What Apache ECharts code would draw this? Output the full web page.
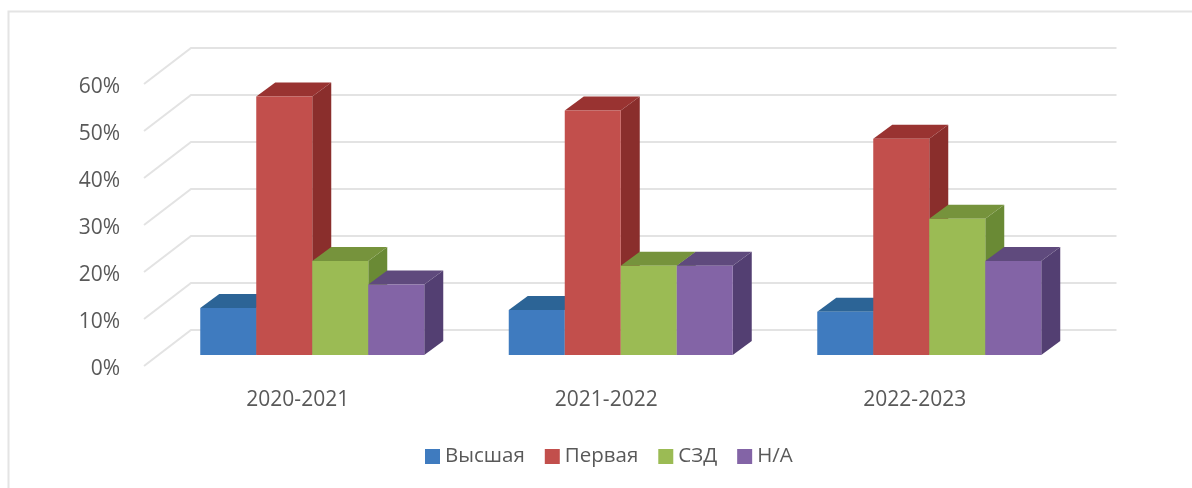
<!DOCTYPE html>
<html>
<head>
<meta charset="utf-8">
<style>html,body{margin:0;padding:0;background:#fff}#main{width:1192px;height:488px}</style>
<script src="https://cdn.jsdelivr.net/npm/echarts@6/dist/echarts.min.js"></script>
</head>
<body>
<div id="main"></div>
<script>
var categories = ['2020-2021', '2021-2022', '2022-2023'];
var vysshaya = [10, 9.6, 9.2];
var pervaya = [55, 52, 46];
var szd = [20, 19, 29];
var na = [15, 19, 20];
var yTicks = [0, 10, 20, 30, 40, 50, 60];

var myChart = echarts.init(document.getElementById('main'));

var barShare = 56 / 308.5; // bar width as part of a category
var depthX = 19, depthY = 14; // bar depth on screen

// one 3d bar: front, side, top
function barItem(index, front, side, top) {
    return function (params, api) {
        var c = api.value(0);
        var base = api.coord([c, 0]);
        var head = api.coord([c, api.value(1)]);
        var w = api.size([1, 0])[0] * barShare;
        var x0 = base[0] + (index - 2) * w;
        var x1 = x0 + w;
        var y0 = base[1], y1 = head[1];
        return {
            type: 'group',
            children: [{
                type: 'polygon',
                shape: { points: [[x1, y0], [x1 + depthX, y0 - depthY], [x1 + depthX, y1 - depthY], [x1, y1]] },
                style: { fill: side }
            }, {
                type: 'polygon',
                shape: { points: [[x0, y1], [x0 + depthX, y1 - depthY], [x1 + depthX, y1 - depthY], [x1, y1]] },
                style: { fill: top }
            }, {
                type: 'rect',
                shape: { x: x0, y: y1, width: w, height: y0 - y1 },
                style: { fill: front }
            }]
        };
    };
}

// gridlines on the back wall and the left wall
function wallLine(params, api) {
    var p = api.coord([0, api.value(0)]);
    var left = params.coordSys.x;
    var right = left + params.coordSys.width;
    var y = p[1];
    return {
        type: 'polyline',
        shape: { points: [[left - 14, y + 11], [left + 33, y - 25], [right + 33, y - 25]] },
        style: { fill: null, stroke: '#e3e3e3', lineWidth: 2 }
    };
}

function barSeries(name, values, index, front, side, top) {
    return {
        name: name,
        type: 'custom',
        z: 3,
        renderItem: barItem(index, front, side, top),
        itemStyle: { color: front },
        encode: { x: 0, y: 1 },
        data: values.map(function (v, i) { return [i, v]; })
    };
}

var option = {
    backgroundColor: '#ffffff',
    animation: false,
    textStyle: { fontFamily: 'Open Sans' },
    graphic: [{
        // picture frame, only top and left show
        type: 'polyline',
        shape: { points: [[8.5, 488], [8.5, 11.5], [1192, 11.5]] },
        style: { fill: null, stroke: '#e4e4e4', lineWidth: 2 },
        silent: true
    }],
    grid: { left: 158, right: 108.5, top: 73, bottom: 133 },
    legend: {
        left: 420,
        top: 441,
        itemWidth: 15,
        itemHeight: 15,
        itemGap: 20,
        icon: 'rect',
        textStyle: { fontSize: 20.5, color: '#595959' },
        data: ['Высшая', 'Первая', 'СЗД', 'Н/А']
    },
    xAxis: {
        type: 'category',
        data: categories,
        axisLine: { show: false },
        axisTick: { show: false },
        axisLabel: { fontSize: 21, color: '#595959', margin: 35, padding: [0, 29, 0, 0] }
    },
    yAxis: {
        type: 'value',
        min: 0,
        max: 60,
        interval: 10,
        axisLine: { show: false },
        axisTick: { show: false },
        splitLine: { show: false },
        axisLabel: {
            fontSize: 21,
            color: '#595959',
            margin: 38,
            verticalAlign: 'top',
            lineHeight: 28,
            formatter: '{value}%'
        }
    },
    series: [{
        type: 'custom',
        z: 1,
        silent: true,
        renderItem: wallLine,
        encode: { y: 0 },
        data: yTicks.map(function (v) { return [v]; })
    },
    barSeries('Высшая', vysshaya, 0, '#3f7bbf', '#2c5f93', '#2c6496'),
    barSeries('Первая', pervaya, 1, '#c24f4c', '#8a2e2c', '#993331'),
    barSeries('СЗД', szd, 2, '#9bbb54', '#6a8a35', '#76933c'),
    barSeries('Н/А', na, 3, '#8364a6', '#533f72', '#5f4a7d')
    ]
};
myChart.setOption(option);
</script>
</body>
</html>
